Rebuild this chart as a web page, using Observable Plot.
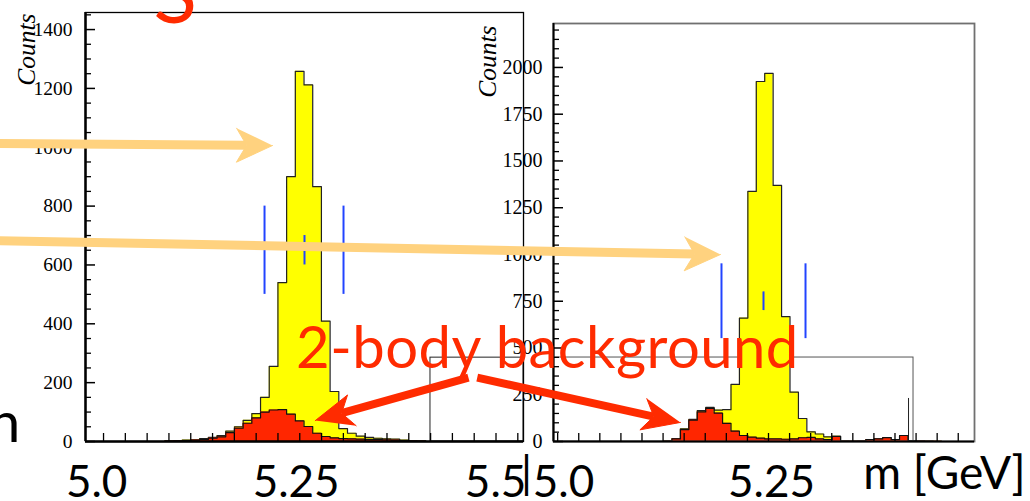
<!DOCTYPE html>
<html><head><meta charset="utf-8">
<script src="https://cdn.jsdelivr.net/npm/d3@7"></script>
<script src="https://cdn.jsdelivr.net/npm/@observablehq/plot@0.6"></script>
<style>
html,body{margin:0;padding:0;background:#fff;}
#page{position:relative;width:1030px;height:501px;overflow:hidden;background:#fff;}
#page svg{position:absolute;top:0;}
#overlay g[aria-label="text"] text{letter-spacing:0.45px;}
</style></head><body><div id="page"></div>
<script>
// ---------- data ----------
// left panel: invariant mass histogram (total = yellow, 2-body background = red)
const leftBinStart = 5.0855, leftBinWidth = 0.0109;
const leftTotal   = [2,3,5,6,10,14,20,35,50,72,95,150,255,540,900,1258,1212,866,409,170,44,28,18,14,11,9,8,5,3,2];
const leftTwoBody = [1,2,3,5,7,11,16,30,45,62,80,100,107,108,93,70,51,28,17,12,10,9,8,7,7,6,5,3,2,1];
// right panel
const rightBinStart = 5.1203, rightBinWidth = 0.01013;
const rightTotal   = [3,16,68,118,165,182,168,170,305,660,1337,1925,1968,1369,668,264,123,52,40,25,28,3,2,3,10,14,21,10,32,5,3,2,1];
const rightTwoBody = [2,14,64,114,158,177,152,97,56,32,23,18,14,14,12,14,20,22,14,10,27,2,2,2,10,14,21,10,32,5,3,2,1];

const leftXDomain = [4.986, 5.535], leftYDomain = [0, 1458];
const rightXDomain = [4.988, 5.494], rightYDomain = [0, 2235];

const leftYMajor = [0,200,400,600,800,1000,1200,1400];
const rightYMajor = [0,250,500,750,1000,1250,1500,1750,2000];
const leftXLabelValues = [5.0, 5.25, 5.5];
const leftXLabelText = ["5.0", "5.25", "5.5"];
const rightXLabelValues = [5.0, 5.25];
const rightXLabelText = ["5.0", "5.25"];
const yTitle = "Counts";
const xTitle = "m [GeV]";

// signal-window markers (blue)
const leftWindowX = [5.2104, 5.2605, 5.3094], leftWindowLow = [500, 600, 500], leftWindowHigh = [800, 700, 800];
const rightWindowX = [5.1899, 5.2404, 5.2909], rightWindowLow = [550, 700, 550], rightWindowHigh = [950, 800, 950];

// small boxes drawn inside the frames
const leftInset = [{x1: 5.4184, x2: leftXDomain[1], y1: 0, y2: 285}];
const rightInset = [{x1: rightXDomain[0], x2: 5.4207, y1: 0, y2: 449}];
const rightInsetLine = [{x: 5.4147, y1: 0, y2: 230}];

// slide annotations (panel, x, y in that panel's data units)
const orangeFrom = [["left", 4.87, 1013], ["left", 4.87, 683]];
const orangeTo   = [["left", 5.2204, 1006], ["right", 5.1887, 1000]];
const redFrom = [["left", 5.466, 217], ["left", 5.477, 217]];
const redTo   = [["left", 5.274, 71], ["right", 5.1406, 102]];
const slideTexts = [
  {text: "2-body background", at: ["left", 5.25, 250], anchor: "start", size: 58, color: "#ff2b00"},
  {text: "h", at: ["left", 4.905, 0], anchor: "end", size: 57, color: "#000"},
  {text: "S", at: ["left", 5.0988, 1424], anchor: "middle", size: 80, color: "#ff2b00"}
];

// ---------- styles ----------
const SERIF = "'Liberation Serif','DejaVu Serif',serif";
const SLIDE = "Lato,'Open Sans',sans-serif";
const YELLOW = "#ffff00", RED = "#ff2600", BLUE = "#2244ff", ORANGE = "#ffd27f";
const RIGHT_OFFSET = 470;

function steps(start, width, counts) {
  const pts = [{x: start, y: 0}];
  counts.forEach((c, i) => pts.push({x: start + i * width, y: c}));
  const end = start + counts.length * width;
  pts.push({x: end, y: counts[counts.length - 1]});
  pts.push({x: end, y: 0});
  return pts;
}

function panel(o) {
  const tot = steps(o.binStart, o.binWidth, o.total);
  const bkg = steps(o.binStart, o.binWidth, o.twoBody);
  const markers = o.winX.map((x, i) => ({x, y1: o.winLow[i], y2: o.winHigh[i]}));
  const minor = d3.range(50, o.yDomain[1], 50).filter(v => v % o.yStep);
  return Plot.plot({
    width: o.width, height: 501,
    marginLeft: o.marginLeft, marginRight: o.marginRight, marginTop: o.marginTop, marginBottom: 60,
    style: {background: "transparent", position: "absolute", left: o.left + "px", top: "0px"},
    x: {domain: o.xDomain},
    y: {domain: o.yDomain},
    marks: [
      Plot.rect(o.inset, {x1: "x1", x2: "x2", y1: "y1", y2: "y2", fill: "none", stroke: o.insetStroke, strokeWidth: 1}),
      ...(o.insetLine ? [Plot.ruleX(o.insetLine, {x: "x", y1: "y1", y2: "y2", stroke: "#222", strokeWidth: 1})] : []),
      Plot.areaY(tot, {x: "x", y: "y", curve: "step-after", fill: YELLOW}),
      Plot.lineY(tot, {x: "x", y: "y", curve: "step-after", stroke: "#222", strokeWidth: 1.2}),
      Plot.areaY(bkg, {x: "x", y: "y", curve: "step-after", fill: RED}),
      Plot.lineY(bkg, {x: "x", y: "y", curve: "step-after", stroke: "#111", strokeWidth: 1.2}),
      Plot.ruleX(markers, {x: "x", y1: "y1", y2: "y2", stroke: BLUE, strokeWidth: 2}),
      Plot.frame({stroke: o.frameStroke, strokeWidth: o.frameWidth}),
      Plot.ruleX([o.xDomain[0]], {stroke: "black", strokeWidth: o.axisWidth}),
      Plot.ruleY([0], {stroke: "black", strokeWidth: o.axisWidth}),
      Plot.axisY(o.yMajor, {anchor: "left", tickSize: 10, dx: 10, fill: "none", stroke: "black", strokeWidth: 1.5}),
      Plot.axisY(minor, {anchor: "left", tickSize: 6, dx: 6, fill: "none", stroke: "black", strokeWidth: 1.3}),
      Plot.axisY(o.yMajor, {anchor: "left", tickSize: 0, tickPadding: o.yPad, fontSize: o.yFont, fontFamily: SERIF, fill: "black", label: null, tickFormat: "d"}),
      Plot.axisX(o.xTicks, {anchor: "bottom", tickSize: 8, dy: -8, fill: "none", stroke: "black", strokeWidth: 1.3}),
      Plot.axisX(o.labelValues, {anchor: "bottom", tickSize: 0, tickPadding: 55, lineAnchor: "bottom", fontSize: 44, fontFamily: SLIDE, fill: "black", label: null, tickFormat: (d, i) => o.labelText[i]}),
      Plot.text([yTitle], {text: d => d, frameAnchor: "top-left", rotate: -90, textAnchor: "end", lineAnchor: "middle", dx: o.titleDx, dy: o.titleDy, fontStyle: "italic", fontFamily: SERIF, fontSize: 25.5, fill: "black"}),
      ...o.extra
    ]
  });
}

const leftPlot = panel({
  left: 0, width: 530, marginLeft: 85, marginRight: 7, marginTop: 12,
  xDomain: leftXDomain, yDomain: leftYDomain, yStep: 200,
  binStart: leftBinStart, binWidth: leftBinWidth, total: leftTotal, twoBody: leftTwoBody,
  winX: leftWindowX, winLow: leftWindowLow, winHigh: leftWindowHigh,
  inset: leftInset, insetStroke: "#222", insetLine: null,
  frameStroke: "black", frameWidth: 1.3, axisWidth: 2.5,
  yMajor: leftYMajor, yPad: 13, yFont: 19.5,
  xTicks: d3.range(20).map(i => 5.0086 + i * 0.02733),
  labelValues: leftXLabelValues, labelText: leftXLabelText,
  titleDx: -59, titleDy: 1,
  extra: [Plot.text(["|"], {text: d => d, frameAnchor: "bottom-right", textAnchor: "middle", lineAnchor: "bottom", dx: 3, dy: 46, fontSize: 44, fontFamily: SLIDE, fill: "black"})]
});

const rightPlot = panel({
  left: RIGHT_OFFSET, width: 560, marginLeft: 83, marginRight: 56, marginTop: 23,
  xDomain: rightXDomain, yDomain: rightYDomain, yStep: 250,
  binStart: rightBinStart, binWidth: rightBinWidth, total: rightTotal, twoBody: rightTwoBody,
  winX: rightWindowX, winLow: rightWindowLow, winHigh: rightWindowHigh,
  inset: rightInset, insetStroke: "#555", insetLine: rightInsetLine,
  frameStroke: "#707070", frameWidth: 1.8, axisWidth: 2,
  yMajor: rightYMajor, yPad: 11, yFont: 20,
  xTicks: d3.range(20).map(i => 4.993 + i * 0.02534),
  labelValues: rightXLabelValues, labelText: rightXLabelText,
  titleDx: -66, titleDy: 2,
  extra: [Plot.text([xTitle], {text: d => d, frameAnchor: "bottom-right", textAnchor: "end", lineAnchor: "bottom", dx: 51, dy: 47, fontSize: 46, fontFamily: SLIDE, fill: "black"})]
});

// ---------- overlay of slide annotations ----------
const lx = leftPlot.scale("x"), ly = leftPlot.scale("y");
const rx = rightPlot.scale("x"), ry = rightPlot.scale("y");
function toPage([p, x, y]) {
  return p === "left" ? [lx.apply(x), ly.apply(y)] : [RIGHT_OFFSET + rx.apply(x), ry.apply(y)];
}
function arrows(from, to, L, hw) {
  const shafts = [], heads = [];
  from.forEach((f, i) => {
    const [x0, y0] = toPage(f), [x1, y1] = toPage(to[i]);
    const len = Math.hypot(x1 - x0, y1 - y0), ux = (x1 - x0) / len, uy = (y1 - y0) / len;
    const nx = -uy, ny = ux;
    const bx = x1 - ux * L, by = y1 - uy * L;
    const kx = x1 - ux * L * 0.72, ky = y1 - uy * L * 0.72;
    shafts.push({x1: x0, y1: y0, x2: kx, y2: ky});
    heads.push({id: i, x: x1, y: y1}, {id: i, x: bx + nx * hw, y: by + ny * hw}, {id: i, x: kx, y: ky}, {id: i, x: bx - nx * hw, y: by - ny * hw});
  });
  return {shafts, heads};
}
const oa = arrows(orangeFrom, orangeTo, 36, 17);
const ra = arrows(redFrom, redTo, 38, 16);
const texts = slideTexts.map(t => { const [x, y] = toPage(t.at); return {...t, x, y}; });

const overlay = Plot.plot({
  width: 1030, height: 501, margin: 0,
  style: {background: "transparent", position: "absolute", left: "0px", top: "0px", pointerEvents: "none"},
  x: {type: "identity", axis: null}, y: {type: "identity", axis: null},
  marks: [
    Plot.link(oa.shafts, {x1: "x1", y1: "y1", x2: "x2", y2: "y2", stroke: ORANGE, strokeWidth: 9, strokeLinecap: "butt"}),
    Plot.line(oa.heads, {x: "x", y: "y", z: "id", fill: ORANGE, stroke: ORANGE, strokeWidth: 1}),
    Plot.link(ra.shafts, {x1: "x1", y1: "y1", x2: "x2", y2: "y2", stroke: "#ff2b00", strokeWidth: 8, strokeLinecap: "butt"}),
    Plot.line(ra.heads, {x: "x", y: "y", z: "id", fill: "#ff2b00", stroke: "#ff2b00", strokeWidth: 1}),
    ...texts.map(t => Plot.text([t], {x: "x", y: "y", text: "text", textAnchor: t.anchor, lineAnchor: "bottom", fontSize: t.size, fontFamily: SLIDE, fill: t.color}))
  ]
});
overlay.setAttribute("id", "overlay");

const page = document.getElementById("page");
page.append(leftPlot, rightPlot, overlay);
</script></body></html>
